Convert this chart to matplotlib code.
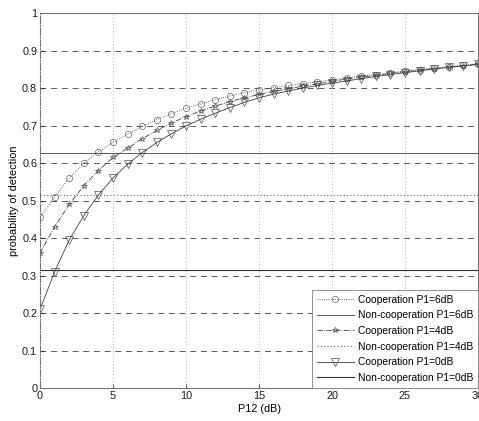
import matplotlib
matplotlib.use("Agg")
import matplotlib.pyplot as plt
import numpy as np

plt.rcParams['font.family'] = ['Liberation Sans', 'DejaVu Sans']

p12 = list(range(0, 31))
coop_6db = [0.455, 0.51, 0.56, 0.60, 0.63, 0.655, 0.677, 0.698, 0.716, 0.732, 0.746,
            0.758, 0.769, 0.779, 0.788, 0.795, 0.801, 0.807, 0.812, 0.817, 0.822,
            0.827, 0.832, 0.836, 0.841, 0.845, 0.849, 0.853, 0.857, 0.861, 0.865]
coop_4db = [0.36, 0.43, 0.49, 0.54, 0.58, 0.615, 0.64, 0.665, 0.687, 0.707, 0.724,
            0.739, 0.752, 0.764, 0.774, 0.783, 0.791, 0.798, 0.805, 0.811, 0.818,
            0.824, 0.829, 0.834, 0.839, 0.844, 0.848, 0.852, 0.856, 0.860, 0.864]
coop_0db = [0.21, 0.31, 0.395, 0.46, 0.515, 0.56, 0.597, 0.628, 0.655, 0.678, 0.699,
            0.717, 0.733, 0.748, 0.762, 0.774, 0.784, 0.792, 0.8, 0.807, 0.813,
            0.819, 0.825, 0.831, 0.836, 0.841, 0.846, 0.851, 0.855, 0.859, 0.863]
noncoop_6db = 0.627
noncoop_4db = 0.515
noncoop_0db = 0.315

labels = ['Cooperation P1=6dB', 'Non-cooperation P1=6dB',
          'Cooperation P1=4dB', 'Non-cooperation P1=4dB',
          'Cooperation P1=0dB', 'Non-cooperation P1=0dB']
xticks = [0, 5, 10, 15, 20, 25, 30]
yticks = [0, 0.1, 0.2, 0.3, 0.4, 0.5, 0.6, 0.7, 0.8, 0.9, 1]
ytick_labels = ['0', '0.1', '0.2', '0.3', '0.4', '0.5', '0.6', '0.7', '0.8', '0.9', '1']

fig = plt.figure(figsize=(4.79, 4.21), dpi=100)
ax = fig.add_axes([0.0835, 0.078, 0.9145, 0.891])

# grid
for yv in yticks[1:-1]:
    ax.axhline(yv, color='0.35', lw=0.7, ls=(0, (6, 5)), zorder=0)
for xv in xticks[1:-1]:
    ax.axvline(xv, color='0.6', lw=0.6, ls=(0, (1, 3)), zorder=0)

ln = dict(color='0.25', lw=0.6)
ax.plot(p12, coop_6db, ls=':', marker='o', ms=4.5, mfc='none', mec='0.4', mew=0.5, label=labels[0], **ln)
ax.plot(p12, [noncoop_6db] * len(p12), ls='-', label=labels[1], **ln)
ax.plot(p12, coop_4db, ls='-.', marker='*', ms=4, mfc='none', mec='0.3', mew=0.5, label=labels[2], **ln)
ax.plot(p12, [noncoop_4db] * len(p12), ls=(0, (1, 2)), label=labels[3], color='0.4', lw=0.8)
ax.plot(p12, coop_0db, ls='-', marker='v', ms=5.5, mfc='none', mec='0.3', mew=0.5, label=labels[4], **ln)
ax.plot(p12, [noncoop_0db] * len(p12), ls='-', label=labels[5], color='0.2', lw=0.8)

ax.set_xlim(0, 30)
ax.set_ylim(0, 1)
ax.set_xticks(xticks)
ax.set_yticks(yticks)
ax.set_yticklabels(ytick_labels)
ax.tick_params(direction='in', length=3, width=0.5, labelsize=7.8, pad=2, colors='0.1')
ax.set_xlabel('P12 (dB)', fontsize=7.8, labelpad=2)
ax.set_ylabel('probability of detection', fontsize=7.8, labelpad=2)

for s in ax.spines.values():
    s.set_color('0.45')
    s.set_linewidth(0.8)
ax.spines['left'].set_linestyle('-.')

leg = ax.legend(loc='lower right', bbox_to_anchor=(1.0, 0.0), borderaxespad=0,
                fontsize=7.4, frameon=True, fancybox=False, edgecolor='0.5',
                handlelength=3.6, handletextpad=0.35, labelspacing=0.55,
                borderpad=0.5, framealpha=1)
leg.get_frame().set_linewidth(0.6)

fig.savefig('out.png', dpi=100)
